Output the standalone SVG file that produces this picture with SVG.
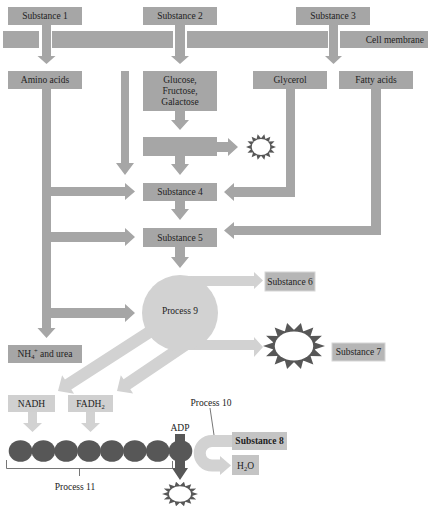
<svg xmlns="http://www.w3.org/2000/svg" xmlns:xlink="http://www.w3.org/1999/xlink" width="434" height="511" viewBox="0 0 434 511">
<style>
.box{fill:#a6a6a6}
.lbox{fill:#d0d0d0}
.mbox{fill:#b6b6b6;stroke:#d6d6d6;stroke-width:1}
.pbox{fill:#c4c4c4}
.arr{fill:#a6a6a6}
.larr{fill:#d2d2d2}
.dark{fill:#575757}
text{font-family:"Liberation Serif","Times New Roman",serif;font-size:9.5px;fill:#222;text-anchor:middle}
.sub{font-size:6.5px}
.thin{fill:none;stroke:#666;stroke-width:0.9}
</style>
<defs>
<g id="sun">
<polygon fill="#575757" points="10,0 6.63,1.51 9.01,4.34 5.32,4.24 6.24,7.82 2.95,6.13 2.23,9.75 0,6.8 -2.23,9.75 -2.95,6.13 -6.24,7.82 -5.32,4.24 -9.01,4.34 -6.63,1.51 -10,0 -6.63,-1.51 -9.01,-4.34 -5.32,-4.24 -6.24,-7.82 -2.95,-6.13 -2.23,-9.75 0,-6.8 2.23,-9.75 2.95,-6.13 6.24,-7.82 5.32,-4.24 9.01,-4.34 6.63,-1.51"/>
<circle r="6.9" fill="#575757"/>
<circle r="6.2" fill="#fff"/>
</g>
</defs>

<g id="connectors">
<polygon class="arr" points="42,25 51,25 51,56 55.5,56 46.5,64 37.5,56 42,56"/>
<polygon class="arr" points="175,25 185,25 185,56 189,56 180,64 171,56 175,56"/>
<polygon class="arr" points="329,25 338,25 338,56 342,56 333.5,64 325,56 329,56"/>
<polygon class="arr" points="42,89 51,89 51,187 125,187 125,183 135,191.5 125,200 125,196 51,196 51,232 125,232 125,228 135,237 125,246 125,242 51,242 51,308 125,308 125,304 135,313 125,322 125,318 51,318 51,328 55.5,328 46.5,338 37.5,328 42,328"/>
<polygon class="arr" points="121,71 129,71 129,163 134,163 125,175 116,163 121,163"/>
<polygon class="arr" points="175,111 185,111 185,120 189,120 180,130 171,120 175,120"/>
<polygon class="arr" points="217,142 228,142 228,138 238,147 228,156 228,152 217,152"/>
<polygon class="arr" points="175,156 185,156 185,164 189,164 180,175 171,164 175,164"/>
<polygon class="arr" points="175,201 185,201 185,209 189,209 180,220 171,209 175,209"/>
<polygon class="arr" points="175,247 185,247 185,257 189,257 180,268 171,257 175,257"/>
<polygon class="arr" points="286,89 295,89 295,197 234,197 234,201 224,192 234,183 234,187 286,187"/>
<polygon class="arr" points="371,89 381,89 381,235 234,235 234,239 224,230.5 234,222 234,226 371,226"/>
<polygon class="larr" points="180,276 254,276 254,272 263,280.5 254,289 254,286 180,286"/>
<polygon class="larr" points="180,340 254,340 254,337 263,347 254,357 254,350 180,350"/>
<polygon class="larr" points="161.7,317 64.9,379.5 62.1,375.3 58,391 74.1,393.7 71.3,389.5 168.3,327"/>
<polygon class="larr" points="181.6,340 123.6,379.3 120.8,375.2 117,391 133.1,393.4 130.3,389.3 188.4,350"/>
<polygon class="larr" points="28,412 37,412 37,423 42,423 32.5,432 23,423 28,423"/>
<polygon class="larr" points="86,412 95,412 95,423 100,423 90.5,432 81,423 86,423"/>
<path d="M232,441 H212 A12.25,12.25 0 0 0 212,465.5 H221" fill="none" stroke="#d2d2d2" stroke-width="12"/>
<polygon class="larr" points="220,456 231,465.5 220,475"/>
<path class="thin" d="M210,408 L214,435"/>
<path class="thin" d="M6.5,460 V468.5 H172.5 V461 M79.5,468.5 V476"/>
</g>

<g id="substance1"><rect class="box" x="8" y="7" width="74" height="18"/><text x="45" y="19">Substance 1</text></g>
<g id="substance2"><rect class="box" x="143" y="7" width="74" height="18"/><text x="180" y="19">Substance 2</text></g>
<g id="substance3"><rect class="box" x="296" y="7" width="74" height="18"/><text x="333" y="19">Substance 3</text></g>
<g id="cell-membrane">
<rect class="box" x="3" y="31" width="36" height="17"/>
<rect class="box" x="52" y="31" width="121" height="17"/>
<rect class="box" x="187" y="31" width="141" height="17"/>
<rect class="box" x="340" y="31" width="88" height="17"/>
<text x="424" y="43" style="text-anchor:end">Cell membrane</text>
</g>
<g id="amino-acids"><rect class="box" x="8" y="71" width="74" height="18"/><text x="45" y="83">Amino acids</text></g>
<g id="sugars"><rect class="box" x="143" y="71" width="74" height="40"/>
<text x="180" y="83">Glucose,</text><text x="180" y="94">Fructose,</text><text x="180" y="105">Galactose</text></g>
<g id="glycerol"><rect class="box" x="253" y="71" width="74" height="18"/><text x="290" y="83">Glycerol</text></g>
<g id="fatty-acids"><rect class="box" x="339" y="71" width="74" height="18"/><text x="376" y="83">Fatty acids</text></g>
<g id="blank-step"><rect class="box" x="143" y="137" width="74" height="19"/></g>
<g id="energy-1"><use xlink:href="#sun" transform="translate(261,147) scale(1.5,1.3)"/></g>
<g id="substance4"><rect class="box" x="143" y="183" width="74" height="18"/><text x="180" y="195">Substance 4</text></g>
<g id="substance5"><rect class="box" x="143" y="228" width="74" height="19"/><text x="180" y="241">Substance 5</text></g>
<g id="process9"><circle cx="180" cy="313" r="38" fill="#d2d2d2"/><text x="180" y="314">Process 9</text></g>
<g id="substance6"><rect class="mbox" x="265" y="272" width="50" height="19"/><text x="290" y="285">Substance 6</text></g>
<g id="energy-2"><use xlink:href="#sun" transform="translate(294,346) scale(3.1,2.35)"/></g>
<g id="substance7"><rect class="mbox" x="332" y="343" width="53" height="18"/><text x="358.5" y="355">Substance 7</text></g>
<g id="nh4-urea"><rect class="box" x="8" y="345" width="74" height="18"/><text x="45" y="357">NH<tspan class="sub" dy="2">4</tspan><tspan class="sub" dy="-6" dx="-0.5">+</tspan><tspan dy="4"> and urea</tspan></text></g>
<g id="nadh"><rect class="lbox" x="8" y="395" width="47" height="17"/><text x="31.5" y="407">NADH</text></g>
<g id="fadh2"><rect class="lbox" x="68" y="395" width="45" height="17"/><text x="90.5" y="407">FADH<tspan class="sub" dy="2">2</tspan></text></g>
<g id="process11">
<ellipse class="dark" cx="20.5" cy="451" rx="11.8" ry="10.8"/>
<ellipse class="dark" cx="43.4" cy="451" rx="11.8" ry="10.8"/>
<ellipse class="dark" cx="66.2" cy="451" rx="11.8" ry="10.8"/>
<ellipse class="dark" cx="89.1" cy="451" rx="11.8" ry="10.8"/>
<ellipse class="dark" cx="111.9" cy="451" rx="11.8" ry="10.8"/>
<ellipse class="dark" cx="134.8" cy="451" rx="11.8" ry="10.8"/>
<ellipse class="dark" cx="157.7" cy="451" rx="11.8" ry="10.8"/>
<ellipse class="dark" cx="180.5" cy="451" rx="11.8" ry="10.8"/>
<text x="75" y="490">Process 11</text>
</g>
<g id="adp"><polygon class="dark" points="175,434 185,434 185,468 188,468 180,480 172,468 175,468"/><text x="180" y="431">ADP</text></g>
<g id="energy-3"><use xlink:href="#sun" transform="translate(180,494) scale(1.8,1.25)"/></g>
<g id="process10"><text x="211" y="406">Process 10</text></g>
<g id="substance8"><rect class="pbox" x="232" y="432" width="55" height="18"/><text x="259.5" y="444" font-weight="bold">Substance 8</text></g>
<g id="h2o"><rect class="pbox" x="232" y="455" width="27" height="20"/><text x="245.5" y="469">H<tspan class="sub" dy="2">2</tspan><tspan dy="-2">O</tspan></text></g>
</svg>
